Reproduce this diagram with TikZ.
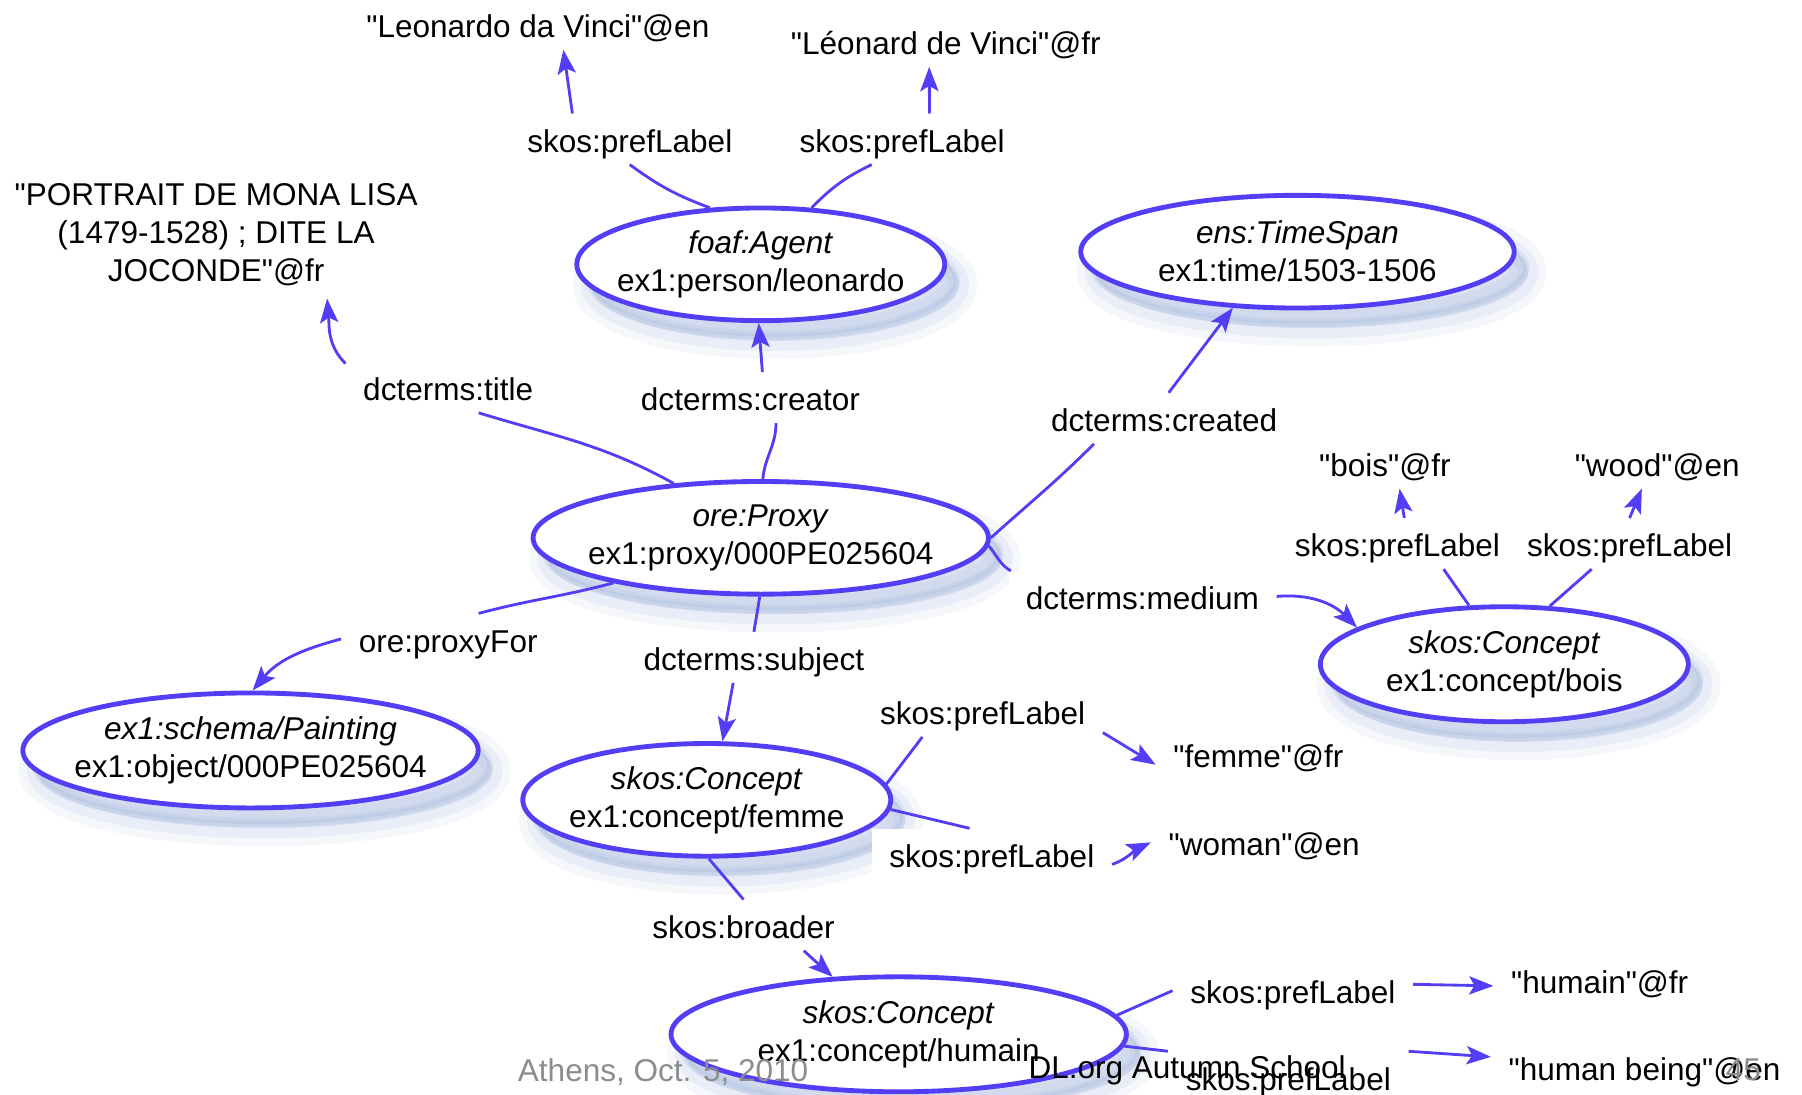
\documentclass[tikz,border=0pt]{standalone}
\usepackage{fontspec}
\setmainfont{Liberation Sans}[Ligatures=TeXOff]
\usepackage{tikz}
\usepackage{xcolor}
\usetikzlibrary{arrows.meta}
\usetikzlibrary{shapes.geometric,shadows}

\definecolor{rdfblue}{RGB}{84,62,245}
\definecolor{shadeblue}{RGB}{110,140,200}
\definecolor{footgray}{RGB}{140,140,140}

\begin{document}
\begin{tikzpicture}[x=0.01cm,y=-0.01cm,>={Stealth[length=6pt,width=4.5pt,inset=1.3pt]},
                    font=\fontsize{7.8}{9.4}\selectfont,
                    soft shadow/.style={
                      general shadow={fill=shadeblue,draw=shadeblue,line width=9pt,opacity=.07,shadow xshift=3.5pt,shadow yshift=-5pt},
                      general shadow={fill=shadeblue,draw=shadeblue,line width=5pt,opacity=.09,shadow xshift=3.5pt,shadow yshift=-5pt},
                      general shadow={fill=shadeblue,draw=shadeblue,line width=1.5pt,opacity=.12,shadow xshift=3pt,shadow yshift=-4pt}},
                    res node/.style={ellipse,draw=rdfblue,line width=1.2pt,fill=white,align=center,
                      inner xsep=-1cm,inner ysep=0pt,minimum height=0.98cm,soft shadow},
                    lit node/.style={inner xsep=4.2pt,inner ysep=1.5pt,text height=1.5ex,text depth=.25ex},
                    prop node/.style={lit node,fill=white},
                    link/.style={rdfblue,line width=0.7pt}]

  \useasboundingbox (0,0) rectangle (1568,952);

  \node[res node,minimum width=3.2cm]  (agent)    at (662,230)  {\textit{foaf:Agent}\\ex1:person/leonardo};
  \node[res node,minimum width=3.77cm] (span)     at (1129,219) {\textit{ens:TimeSpan}\\ex1:time/1503-1506};
  \node[res node,minimum width=3.96cm] (proxy)    at (662,468)  {\textit{ore:Proxy}\\ex1:proxy/000PE025604};
  \node[res node,minimum width=3.96cm,minimum height=1cm] (painting) at (218,653) {\textit{ex1:schema/Painting}\\ex1:object/000PE025604};
  \node[res node,minimum width=3.2cm]  (femme)    at (615,696)  {\textit{skos:Concept}\\ex1:concept/femme};
  \node[res node,minimum width=3.2cm,minimum height=1cm]  (bois)   at (1309,578) {\textit{skos:Concept}\\ex1:concept/bois};
  \node[res node,minimum width=3.96cm,minimum height=1cm] (humain) at (782,900)  {\textit{skos:Concept}\\ex1:concept/humain};

  \node[lit node] (leoEn)    at (468,21)   {"Leonardo da Vinci"@en};
  \node[lit node] (leoFr)    at (823,36)   {"Léonard de Vinci"@fr};
  \node[align=center,inner sep=3pt] (title) at (188,204) {"PORTRAIT DE MONA LISA\\(1479-1528) ; DITE LA\\JOCONDE"@fr};
  \node[lit node] (boisFr)   at (1205,403) {"bois"@fr};
  \node[lit node] (woodEn)   at (1442,403) {"wood"@en};
  \node[lit node] (femmeFr)  at (1095,656) {"femme"@fr};
  \node[lit node] (womanEn)  at (1100,733) {"woman"@en};
  \node[lit node] (humainFr) at (1392,853) {"humain"@fr};
  \node[lit node] (humanEn)  at (1431,929) {"human being"@en};

  \node[prop node] (lLeoEn)    at (548,121)  {skos:prefLabel};
  \node[prop node] (lLeoFr)    at (785,121)  {skos:prefLabel};
  \node[prop node] (lTitle)    at (390,337)  {dcterms:title};
  \node[prop node] (lCreator)  at (653,346)  {dcterms:creator};
  \node[prop node] (lCreated)  at (1013,364) {dcterms:created};
  \node[prop node] (lBoisFr)   at (1216,473) {skos:prefLabel};
  \node[prop node] (lWood)     at (1418,473) {skos:prefLabel};
  \node[prop node] (lMedium)   at (994,519)  {dcterms:medium};
  \node[prop node] (lProxyFor) at (390,556)  {ore:proxyFor};
  \node[prop node] (lSubject)  at (656,572)  {dcterms:subject};
  \node[prop node] (lFemme)    at (855,619)  {skos:prefLabel};
  \node[prop node] (lWoman)    at (863,743)  {skos:prefLabel};
  \node[prop node] (lBroader)  at (647,805)  {skos:broader};
  \node[prop node] (lHumain)   at (1125,862) {skos:prefLabel};
  \node[prop node] (lHuman)    at (1121,937) {skos:prefLabel};

  \path[link]
    (agent.132)        edge[bend left=8] (lLeoEn.south)
    (lLeoEn.156)       edge[->] (leoEn.-45)
    (agent.48)         edge[bend left=10] (lLeoFr.-140)
    (lLeoFr.43)        edge[->] (leoFr.-123)
    (proxy.148)        edge[out=151,in=-17] (lTitle.-40)
    (lTitle.167)       edge[->,out=135,in=-85] (title.-30)
    (proxy.88)         edge[out=85,in=-90] (lCreator.-45)
    (lCreator.65)      edge[->] (agent.-92)
    (proxy.east)       edge[out=42,in=-135] (lCreated.-160)
    (lCreated.80)      edge[->] (span.-139)
    (proxy.-2)         edge[out=-50,in=150] (lMedium.169)
    (lMedium.east)     edge[->,out=5,in=135] (bois.166)
    (bois.121)         edge (lBoisFr.-29)
    (lBoisFr.75)       edge[->] (boisFr.-60)
    (bois.52)          edge (lWood.-146)
    (lWood.north)      edge[->] (woodEn.-121)
    (proxy.-163)       edge[out=-165,in=15] (lProxyFor.40)
    (lProxyFor.west)   edge[->,out=195,in=50] (painting.88)
    (proxy.-91)        edge (lSubject.north)
    (lSubject.-129)    edge[->] (femme.75)
    (femme.5)          edge (lFemme.-157)
    (lFemme.-10)       edge[->] (femmeFr.186)
    (femme.-3)         edge (lWoman.131)
    (lWoman.-5)        edge[->,out=20,in=-155] (womanEn.west)
    (femme.-88)        edge (lBroader.north)
    (lBroader.-23)     edge[->] (humain.139)
    (humain.5)         edge (lHumain.west)
    (lHumain.3)        edge[->] (humainFr.183)
    (humain.-3)        edge (lHuman.north west)
    (lHuman.north east) edge[->] (humanEn.176)
    ;

  % slide footer
  \node[text=footgray] (date)   at (577,933)  {Athens, Oct. 5, 2010};
  \node                (school) at (1033,931) {DL.org Autumn School};
  \node[text=footgray] (page)   at (1517,931) {45};
\end{tikzpicture}
\end{document}
